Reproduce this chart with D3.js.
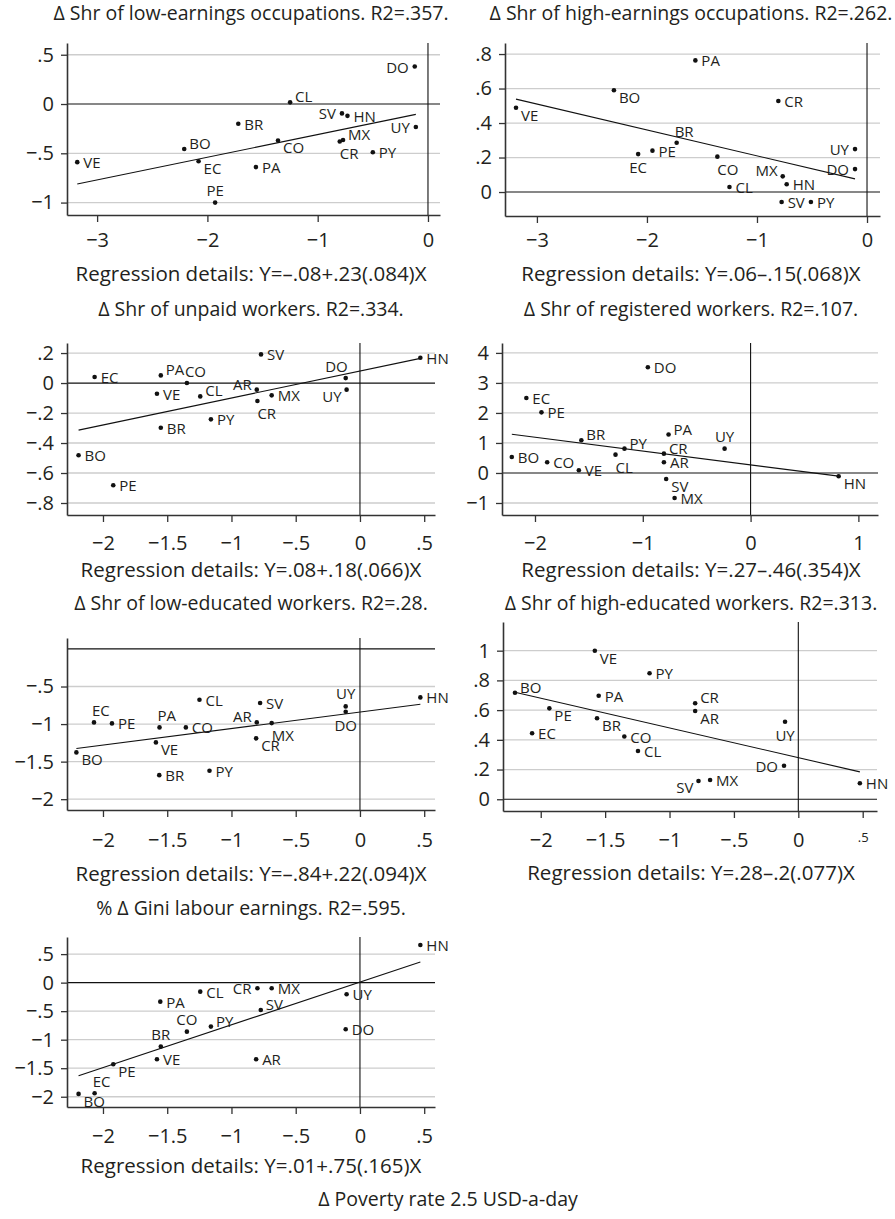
<!DOCTYPE html>
<html><head><meta charset="utf-8">
<script src="https://cdn.jsdelivr.net/npm/d3@7"></script>
<style>
body{margin:0;background:#fff}
text{font-family:"Open Sans",Lato,sans-serif;fill:#231f20}
</style>
</head><body>
<svg id="c" width="895" height="1219"></svg>
<script>
// ---------------- DATA ----------------
const countries = ["AR","BO","BR","CL","CO","CR","DO","EC","HN","MX","PA","PE","PY","SV","UY","VE"];

// Panel 1: low-earnings occupations
const p1X = [null,-2.21,-1.72,-1.25,-1.36,-0.80,-0.12,-2.08,-0.73,-0.77,-1.56,-1.93,-0.50,-0.78,-0.11,-3.18];
const p1Y = [null,-0.456,-0.20,0.017,-0.37,-0.38,0.38,-0.58,-0.12,-0.365,-0.64,-1.0,-0.49,-0.095,-0.233,-0.59];
// Panel 2: high-earnings occupations
const p2X = [null,-2.30,-1.73,-1.25,-1.36,-0.806,-0.109,-2.08,-0.73,-0.766,-1.56,-1.95,-0.51,-0.776,-0.109,-3.19];
const p2Y = [null,0.59,0.286,0.029,0.205,0.528,0.133,0.22,0.045,0.091,0.763,0.24,-0.058,-0.058,0.249,0.489];
// Panel 3: unpaid workers
const p3X = [-0.803,-2.19,-1.55,-1.243,-1.347,-0.798,-0.111,-2.065,0.47,-0.687,-1.55,-1.92,-1.16,-0.77,-0.104,-1.58];
const p3Y = [-0.044,-0.482,-0.298,-0.089,0.0,-0.12,0.033,0.04,0.169,-0.082,0.051,-0.682,-0.242,0.191,-0.044,-0.071];
// Panel 4: registered workers
const p4X = [-0.804,-2.215,-1.57,-1.253,-1.887,-0.804,-0.953,-2.08,0.817,-0.705,-0.761,-1.94,-1.17,-0.783,-0.241,-1.593];
const p4Y = [0.356,0.533,1.09,0.611,0.356,0.644,3.52,2.5,-0.111,-0.833,1.28,2.02,0.81,-0.2,0.81,0.089];
// Panel 5: low-educated workers
const p5X = [-0.803,-2.207,-1.562,-1.249,-1.355,-0.808,-0.111,-2.07,0.47,-0.687,-1.56,-1.93,-1.171,-0.777,-0.111,-1.588];
const p5Y = [-0.978,-1.377,-1.68,-0.676,-1.044,-1.19,-0.836,-0.978,-0.645,-0.987,-1.044,-0.991,-1.621,-0.72,-0.765,-1.244];
// Panel 6: high-educated workers
const p6X = [-0.801,-2.2,-1.563,-1.245,-1.351,-0.801,-0.111,-2.067,0.478,-0.685,-1.55,-1.933,-1.155,-0.775,-0.103,-1.58];
const p6Y = [0.594,0.717,0.545,0.325,0.422,0.646,0.226,0.444,0.108,0.13,0.697,0.612,0.848,0.123,0.522,1.0];
// Panel 7: Gini labour earnings
const p7X = [-0.808,-2.19,-1.55,-1.243,-1.347,-0.798,-0.111,-2.065,0.47,-0.687,-1.554,-1.92,-1.16,-0.772,-0.104,-1.58];
const p7Y = [-1.343,-1.95,-1.121,-0.158,-0.859,-0.099,-0.818,-1.939,0.66,-0.099,-0.333,-1.431,-0.771,-0.479,-0.204,-1.343];

const intercepts = [-0.08,0.06,0.08,0.27,-0.84,0.28,0.01];
const slopes = [0.23,-0.15,0.18,-0.46,0.22,-0.2,0.75];

const titles = [
 "Δ Shr of low-earnings occupations. R2=.357.",
 "Δ Shr of high-earnings occupations. R2=.262.",
 "Δ Shr of unpaid workers. R2=.334.",
 "Δ Shr of registered workers. R2=.107.",
 "Δ Shr of low-educated workers. R2=.28.",
 "Δ Shr of high-educated workers. R2=.313.",
 "% Δ Gini labour earnings. R2=.595."
];
const regLabels = [
 "Regression details: Y=–.08+.23(.084)X",
 "Regression details: Y=.06–.15(.068)X",
 "Regression details: Y=.08+.18(.066)X",
 "Regression details: Y=.27–.46(.354)X",
 "Regression details: Y=–.84+.22(.094)X",
 "Regression details: Y=.28–.2(.077)X",
 "Regression details: Y=.01+.75(.165)X"
];
const xAxisTitle = "Δ Poverty rate 2.5 USD-a-day";

// tick values and labels
const xTicksA = [-3,-2,-1,0], xTickLabelsA = ["−3","−2","−1","0"];
const xTicksB = [-2,-1.5,-1,-0.5,0,0.5], xTickLabelsB = ["−2","−1.5","−1","−.5","0",".5"];
const xTicksC = [-2,-1,0,1], xTickLabelsC = ["−2","−1","0","1"];
const yTicks1 = [0.5,0,-0.5,-1], yTickLabels1 = [".5","0","−.5","−1"];
const yTicks2 = [0.8,0.6,0.4,0.2,0], yTickLabels2 = [".8",".6",".4",".2","0"];
const yTicks3 = [0.2,0,-0.2,-0.4,-0.6,-0.8], yTickLabels3 = [".2","0","−.2","−.4","−.6","−.8"];
const yTicks4 = [4,3,2,1,0,-1], yTickLabels4 = ["4","3","2","1","0","−1"];
const yTicks5 = [-0.5,-1,-1.5,-2], yTickLabels5 = ["−.5","−1","−1.5","−2"];
const yTicks6 = [1,0.8,0.6,0.4,0.2,0], yTickLabels6 = ["1",".8",".6",".4",".2","0"];
const yTicks7 = [0.5,0,-0.5,-1,-1.5,-2], yTickLabels7 = [".5","0","−.5","−1","−1.5","−2"];

// ---------------- LAYOUT / STYLE ----------------
// label placement as clock positions
const labelPos = [
 {BO:2,BR:3,CL:2,CO:4,CR:5,DO:9,EC:4,HN:3,MX:2,PA:3,PE:12,PY:3,SV:9,UY:9,VE:3},
 {BO:4,BR:1,CL:3,CO:5,CR:3,DO:9,EC:6,HN:3,MX:10,PA:3,PE:3,PY:3,SV:3,UY:9,VE:4},
 {AR:10,BO:3,BR:3,CL:2,CO:1,CR:5,DO:11,EC:3,HN:3,MX:3,PA:2,PE:3,PY:3,SV:3,UY:8,VE:3},
 {AR:3,BO:3,BR:2,CL:5,CO:3,CR:2,DO:3,EC:3,HN:4,MX:3,PA:2,PE:3,PY:2,SV:4,UY:12,VE:3},
 {AR:10,BO:4,BR:3,CL:3,CO:3,CR:4,DO:6,EC:1,HN:3,MX:5,PA:1,PE:3,PY:3,SV:3,UY:12,VE:4},
 {AR:4,BO:2,BR:4,CL:3,CO:3,CR:2,DO:9,EC:3,HN:3,MX:3,PA:3,PE:4,PY:3,SV:8,UY:6,VE:4},
 {AR:3,BO:4,BR:12,CL:3,CO:12,CR:9,DO:3,EC:1,HN:3,MX:3,PA:3,PE:4,PY:2,SV:2,UY:3,VE:3}
];
const clock = {
 1:{a:"start",dx:-2,dy:-12}, 2:{a:"start",dx:5,dy:-6}, 3:{a:"start",dx:6,dy:0},
 4:{a:"start",dx:5,dy:7}, 5:{a:"start",dx:0,dy:12}, 6:{a:"middle",dx:0,dy:13},
 7:{a:"end",dx:0,dy:12}, 8:{a:"end",dx:-5,dy:6}, 9:{a:"end",dx:-6,dy:0},
 10:{a:"end",dx:-5,dy:-6}, 11:{a:"end",dx:2,dy:-12}, 12:{a:"middle",dx:0,dy:-13}
};

const layouts = [
 {l:67,r:440,t:43,b:215,xd:[-3.273,0.109],yd:[-1.126,0.619],cx:251,titleY:20,tickY:247,regY:281},
 {l:505,r:880,t:43,b:216,xd:[-3.29,0.118],yd:[-0.139,0.864],cx:691,titleY:20,tickY:247,regY:281},
 {l:67,r:435,t:343,b:515,xd:[-2.28,0.584],yd:[-0.88,0.267],cx:251,titleY:316,tickY:550,regY:577},
 {l:502,r:878,t:343,b:515,xd:[-2.306,1.182],yd:[-1.40,4.33],cx:691,titleY:316,tickY:550,regY:577},
 {l:67,r:435,t:638,b:810,xd:[-2.28,0.584],yd:[-2.144,0.146],cx:251,titleY:610,tickY:847,regY:881},
 {l:503,r:877,t:622,b:811,xd:[-2.293,0.611],yd:[-0.079,1.193],cx:691,titleY:610,tickY:847,regY:880},
 {l:67,r:435,t:937,b:1107,xd:[-2.28,0.584],yd:[-2.18,0.80],cx:251,titleY:915,tickY:1143,regY:1173}
];

const panels = [
 {xs:p1X,ys:p1Y,xt:xTicksA,xl:xTickLabelsA,yt:yTicks1,yl:yTickLabels1},
 {xs:p2X,ys:p2Y,xt:xTicksA,xl:xTickLabelsA,yt:yTicks2,yl:yTickLabels2},
 {xs:p3X,ys:p3Y,xt:xTicksB,xl:xTickLabelsB,yt:yTicks3,yl:yTickLabels3},
 {xs:p4X,ys:p4Y,xt:xTicksC,xl:xTickLabelsC,yt:yTicks4,yl:yTickLabels4},
 {xs:p5X,ys:p5Y,xt:xTicksB,xl:xTickLabelsB,yt:yTicks5,yl:yTickLabels5},
 {xs:p6X,ys:p6Y,xt:xTicksB,xl:xTickLabelsB,yt:yTicks6,yl:yTickLabels6,smallLast:true},
 {xs:p7X,ys:p7Y,xt:xTicksB,xl:xTickLabelsB,yt:yTicks7,yl:yTickLabels7}
];

const FONT = "Open Sans";
const FS_TITLE = 19.5, FS_REG = 20.5, FS_TICK = 20, FS_LAB = 15;
const AXIS_COL = "#333", GRID_COL = "#cdcdcd";

const svg = d3.select("#c");

panels.forEach((P, i) => {
  const L = layouts[i];
  const g = svg.append("g");
  const x = d3.scaleLinear().domain(L.xd).range([L.l, L.r]);
  const y = d3.scaleLinear().domain(L.yd).range([L.b, L.t]);

  // gridlines
  g.selectAll("line.grid").data(P.yt.filter(v => v !== 0)).join("line")
    .attr("x1", L.l).attr("x2", L.r).attr("y1", d => y(d)).attr("y2", d => y(d))
    .attr("stroke", GRID_COL).attr("stroke-width", 1.3);
  // zero lines
  g.append("line").attr("x1", L.l).attr("x2", L.r).attr("y1", y(0)).attr("y2", y(0))
    .attr("stroke", "#111").attr("stroke-width", 1.2);
  g.append("line").attr("x1", x(0)).attr("x2", x(0)).attr("y1", L.t).attr("y2", L.b)
    .attr("stroke", "#111").attr("stroke-width", 1.1);

  // axes
  const ya = g.append("g").attr("transform", `translate(${L.l},0)`)
    .call(d3.axisLeft(y).tickValues(P.yt).tickFormat((d, k) => P.yl[k]).tickSize(6).tickSizeOuter(0).tickPadding(7));
  const pad = (L.tickY - L.b) - 7 - 0.71 * FS_TICK;
  const xa = g.append("g").attr("transform", `translate(0,${L.b})`)
    .call(d3.axisBottom(x).tickValues(P.xt).tickFormat((d, k) => P.xl[k]).tickSize(7).tickSizeOuter(0).tickPadding(pad));
  [ya, xa].forEach(a => {
    a.select(".domain").attr("stroke", AXIS_COL).attr("stroke-width", 1.6);
    a.selectAll(".tick line").attr("stroke", AXIS_COL).attr("stroke-width", 1.3);
    a.selectAll(".tick text").attr("font-size", FS_TICK).attr("font-family", FONT).attr("fill", "#231f20");
  });
  if (P.smallLast) {
    xa.selectAll(".tick text").filter((d, k) => k === P.xt.length - 1).attr("font-size", 13);
  }

  // data
  const pts = countries.map((c, k) => ({c, x: P.xs[k], y: P.ys[k]})).filter(d => d.x !== null);

  // regression line
  const [mn, mx] = d3.extent(pts, d => d.x);
  g.append("line")
    .attr("x1", x(mn)).attr("y1", y(intercepts[i] + slopes[i] * mn))
    .attr("x2", x(mx)).attr("y2", y(intercepts[i] + slopes[i] * mx))
    .attr("stroke", "#111").attr("stroke-width", 1.1);

  g.selectAll("circle").data(pts).join("circle")
    .attr("cx", d => x(d.x)).attr("cy", d => y(d.y)).attr("r", 2.3).attr("fill", "#111");

  g.selectAll("text.lab").data(pts).join("text").attr("class", "lab")
    .attr("x", d => x(d.x) + clock[labelPos[i][d.c]].dx)
    .attr("y", d => y(d.y) + clock[labelPos[i][d.c]].dy)
    .attr("text-anchor", d => clock[labelPos[i][d.c]].a)
    .attr("dominant-baseline", "central")
    .attr("font-size", FS_LAB)
    .text(d => d.c);

  // title & regression text
  g.append("text").attr("x", L.cx).attr("y", L.titleY).attr("text-anchor", "middle")
    .attr("font-size", FS_TITLE).text(titles[i]);
  g.append("text").attr("x", L.cx).attr("y", L.regY).attr("text-anchor", "middle")
    .attr("font-size", FS_REG).text(regLabels[i]);
});

svg.append("text").attr("x", 448).attr("y", 1206).attr("text-anchor", "middle")
  .attr("font-size", FS_TITLE).text(xAxisTitle);
</script>
</body></html>
